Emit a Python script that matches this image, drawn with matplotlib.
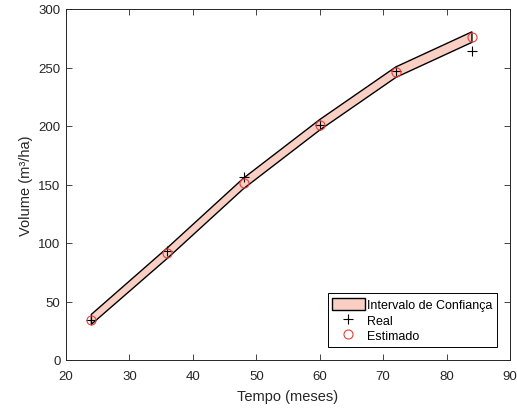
import numpy as np
import matplotlib
matplotlib.use('Agg')
import matplotlib.pyplot as plt

# meses de medição
tempo = [24, 36, 48, 60, 72, 84]
# volume observado e estimado (m³/ha)
real = [34, 93, 156, 201, 247, 264]
estimado = [34.5, 91.5, 151, 201, 246, 276]
# limites do intervalo de confiança
inferior = [30.5, 87, 146.5, 196.5, 241.5, 271.5]
superior = [39, 96, 155.5, 205.5, 250.5, 280.5]

plt.rcParams['font.family'] = ['Liberation Sans', 'DejaVu Sans']

fig = plt.figure(figsize=(5.17, 4.14), dpi=100)
ax = fig.add_axes([66 / 517, 1 - 361 / 414, 444 / 517, 351 / 414])

# polígono do intervalo (borda superior + borda inferior invertida)
xs = np.concatenate([tempo, tempo[::-1]])
ys = np.concatenate([superior, inferior[::-1]])
ax.fill(xs, ys, facecolor='#f9cfc4', edgecolor='black', linewidth=1.0,
        label='Intervalo de Confiança')
ax.plot(tempo, real, '+', color='black', markersize=6.5, markeredgewidth=0.8,
        label='Real')
ax.plot(tempo, estimado, 'o', markerfacecolor='none', markeredgecolor='#e8403a',
        markersize=6.5, markeredgewidth=0.8, label='Estimado')

ax.set_xlim(20, 90)
ax.set_ylim(0, 300)
ax.set_xticks(range(20, 91, 10))
ax.set_yticks(range(0, 301, 50))
ax.tick_params(direction='in', top=True, right=True, length=4, width=0.6,
               labelsize=9.5, colors='#262626')
ax.tick_params(axis='x', pad=7)
ax.tick_params(axis='y', pad=4)
for s in ax.spines.values():
    s.set_color('#262626')
    s.set_linewidth(0.7)
ax.set_xlabel('Tempo (meses)', fontsize=10.5, color='#262626', labelpad=5)
ax.set_ylabel('Volume (m³/ha)', fontsize=10.5, color='#262626', labelpad=4)

leg = ax.legend(loc='lower right', fontsize=9, frameon=True, fancybox=False,
                edgecolor='black', framealpha=1, borderpad=0.35,
                handlelength=2.6, handleheight=1.1, handletextpad=0.2,
                labelspacing=0.2, borderaxespad=1.05)
leg.get_frame().set_linewidth(0.7)

fig.savefig('out.png', dpi=100)
